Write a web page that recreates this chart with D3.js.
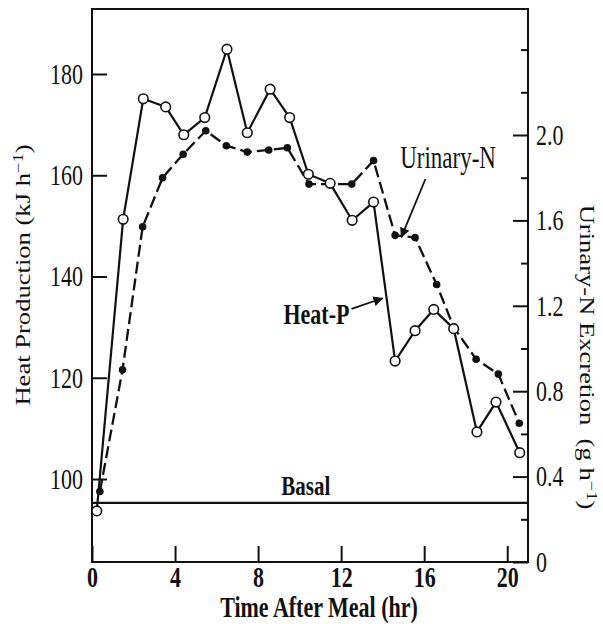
<!DOCTYPE html>
<html>
<head>
<meta charset="utf-8">
<script src="https://cdn.jsdelivr.net/npm/d3@7"></script>
<style>
  body { margin: 0; background: #fff; }
  text { font-family: "Liberation Serif", "Times New Roman", serif; fill: #111; }
</style>
</head>
<body>
<div id="chart"></div>
<script>
// Heat production and urinary-N excretion after a meal

// Heat production (open circles, solid line), kJ/h
const heatTime = [0.23, 1.5, 2.47, 3.55, 4.42, 5.43, 6.5, 7.48, 8.58, 9.52, 10.42, 11.47, 12.53, 13.56, 14.6, 15.56, 16.46, 17.42, 18.54, 19.46, 20.6];
const heatValue = [93.7, 151.3, 175.1, 173.5, 168.0, 171.4, 184.9, 168.4, 177.0, 171.4, 160.2, 158.4, 151.1, 154.7, 123.3, 129.3, 133.5, 129.7, 109.3, 115.2, 105.2];

// Urinary-N excretion (filled dots, dashed line), g/h
const nTime = [0.38, 1.47, 2.44, 3.4, 4.39, 5.48, 6.47, 7.48, 8.51, 9.41, 10.45, 11.47, 12.51, 13.56, 14.6, 15.56, 16.6, 17.42, 18.5, 19.57, 20.58];
const nValue = [0.33, 0.90, 1.57, 1.80, 1.91, 2.02, 1.95, 1.92, 1.93, 1.94, 1.77, 1.77, 1.77, 1.88, 1.53, 1.52, 1.30, 1.10, 0.95, 0.88, 0.65];

const basal = 95.3;

// tick labels
const xTicks = [0, 4, 8, 12, 16, 20];
const leftTicks = [100, 120, 140, 160, 180];
const rightTicks = [0, 0.4, 0.8, 1.2, 1.6, 2.0];
const rightMinor = [0.2, 0.6, 1.0, 1.4, 1.8, 2.2, 2.4];

const width = 603, height = 624;
const mLeft = 92, mRight = 528, mTop = 9, mBottom = 562;
const sy = 1.33; // the printed lettering is tall and narrow

const x = d3.scaleLinear().domain([0, 21]).range([mLeft, mRight]);
const yL = d3.scaleLinear().domain([100, 180]).range([479, 74]);
const yR = d3.scaleLinear().domain([0, 2]).range([mBottom, 135]);

const svg = d3.select("#chart")
  .append("svg")
  .attr("width", width)
  .attr("height", height);

// stretch text vertically around its own anchor
function stretch(sel) {
  sel.attr("transform", function() {
    const ax = +this.getAttribute("x") || 0, ay = +this.getAttribute("y") || 0;
    return `translate(${ax},${ay}) scale(1,${sy}) translate(${-ax},${-ay})`;
  });
}

// frame
svg.append("rect")
  .attr("x", mLeft).attr("y", mTop)
  .attr("width", mRight - mLeft).attr("height", mBottom - mTop)
  .attr("fill", "none")
  .attr("stroke", "#111")
  .attr("stroke-width", 2);

// axes
const fmtR = d => d === 0 ? "0" : d3.format(".1f")(d);

svg.append("g")
  .attr("transform", `translate(${mLeft},0)`)
  .call(d3.axisLeft(yL).tickValues(leftTicks).tickSize(-15).tickPadding(9))
  .call(g => g.select(".domain").remove())
  .call(g => g.selectAll("text").style("font-size", "22px").call(stretch));

svg.append("g")
  .attr("transform", `translate(${mRight},0)`)
  .call(d3.axisRight(yR).tickValues(rightTicks).tickSize(-15).tickPadding(8).tickFormat(fmtR))
  .call(g => g.select(".domain").remove())
  .call(g => g.selectAll("text").style("font-size", "22px").call(stretch));

svg.append("g")
  .attr("transform", `translate(${mRight},0)`)
  .call(d3.axisRight(yR).tickValues(rightMinor).tickSize(-7).tickFormat(""))
  .call(g => g.select(".domain").remove());

svg.append("g")
  .attr("transform", `translate(0,${mBottom})`)
  .call(d3.axisBottom(x).tickValues(xTicks).tickSize(-16).tickPadding(4))
  .call(g => g.select(".domain").remove())
  .call(g => g.selectAll("text").style("font-size", "22px").style("font-weight", "bold").call(stretch));

svg.selectAll(".tick line").attr("stroke", "#111").attr("stroke-width", 2);

// basal line
svg.append("line")
  .attr("x1", mLeft).attr("x2", mRight)
  .attr("y1", yL(basal)).attr("y2", yL(basal))
  .attr("stroke", "#111")
  .attr("stroke-width", 2.2);

svg.append("text")
  .attr("x", x(10.3))
  .attr("y", yL(basal) - 8)
  .attr("text-anchor", "middle")
  .style("font-size", "21px")
  .style("font-weight", "bold")
  .text("Basal")
  .call(stretch);

// series
const heat = heatTime.map((t, i) => ({ t: t, v: heatValue[i] }));
const urN = nTime.map((t, i) => ({ t: t, v: nValue[i] }));

svg.append("path")
  .datum(urN)
  .attr("fill", "none")
  .attr("stroke", "#111")
  .attr("stroke-width", 2.3)
  .attr("stroke-dasharray", "12,5")
  .attr("d", d3.line().x(d => x(d.t)).y(d => yR(d.v)));

svg.append("path")
  .datum(heat)
  .attr("fill", "none")
  .attr("stroke", "#111")
  .attr("stroke-width", 2.2)
  .attr("d", d3.line().x(d => x(d.t)).y(d => yL(d.v)));

svg.append("g")
  .selectAll("circle")
  .data(urN)
  .join("circle")
    .attr("cx", d => x(d.t))
    .attr("cy", d => yR(d.v))
    .attr("r", 3.8)
    .attr("fill", "#111");

svg.append("g")
  .selectAll("circle")
  .data(heat)
  .join("circle")
    .attr("cx", d => x(d.t))
    .attr("cy", d => yL(d.v))
    .attr("r", 4.8)
    .attr("fill", "#fff")
    .attr("stroke", "#111")
    .attr("stroke-width", 1.6);

// labels + arrows
svg.append("defs").append("marker")
  .attr("id", "arrow")
  .attr("viewBox", "0 0 10 10")
  .attr("refX", 9).attr("refY", 5)
  .attr("markerWidth", 10).attr("markerHeight", 10)
  .attr("markerUnits", "userSpaceOnUse")
  .attr("orient", "auto")
  .append("path")
    .attr("d", "M0,0L10,5L0,10z")
    .attr("fill", "#111");

svg.append("line")
  .attr("x1", x(12.5)).attr("y1", yL(133.6))
  .attr("x2", x(13.99)).attr("y2", yL(135.7))
  .attr("stroke", "#111").attr("stroke-width", 1.8)
  .attr("marker-end", "url(#arrow)");

svg.append("text")
  .attr("x", x(12.4))
  .attr("y", yL(130.6))
  .attr("text-anchor", "end")
  .style("font-size", "22px")
  .style("font-weight", "bold")
  .text("Heat-P")
  .call(stretch);

svg.append("line")
  .attr("x1", x(16.06)).attr("y1", yR(1.794))
  .attr("x2", x(14.9)).attr("y2", yR(1.522))
  .attr("stroke", "#111").attr("stroke-width", 1.8)
  .attr("marker-end", "url(#arrow)");

svg.append("text")
  .attr("x", x(17.15))
  .attr("y", yR(1.845))
  .attr("text-anchor", "middle")
  .style("font-size", "23px")
  .text("Urinary-N")
  .call(stretch);

// axis titles
const lt = svg.append("text")
  .attr("transform", `translate(30,275) scale(1,${sy}) rotate(-90)`)
  .attr("text-anchor", "middle")
  .style("font-size", "20px");
lt.append("tspan").text("Heat Production (kJ h");
lt.append("tspan").attr("dy", -7).style("font-size", "14px").text("\u22121");
lt.append("tspan").attr("dy", 7).text(")");

const rt = svg.append("text")
  .attr("transform", `translate(580,357) scale(1,${sy}) rotate(90)`)
  .attr("text-anchor", "middle")
  .style("font-size", "20px");
rt.append("tspan").text("Urinary-N Excretion\u2002(g h");
rt.append("tspan").attr("dy", -7).style("font-size", "14px").text("\u22121");
rt.append("tspan").attr("dy", 7).text(")");

svg.append("text")
  .attr("x", 319)
  .attr("y", 617)
  .attr("text-anchor", "middle")
  .style("font-size", "22px")
  .style("font-weight", "bold")
  .text("Time After Meal (hr)")
  .call(stretch);
</script>
</body>
</html>
